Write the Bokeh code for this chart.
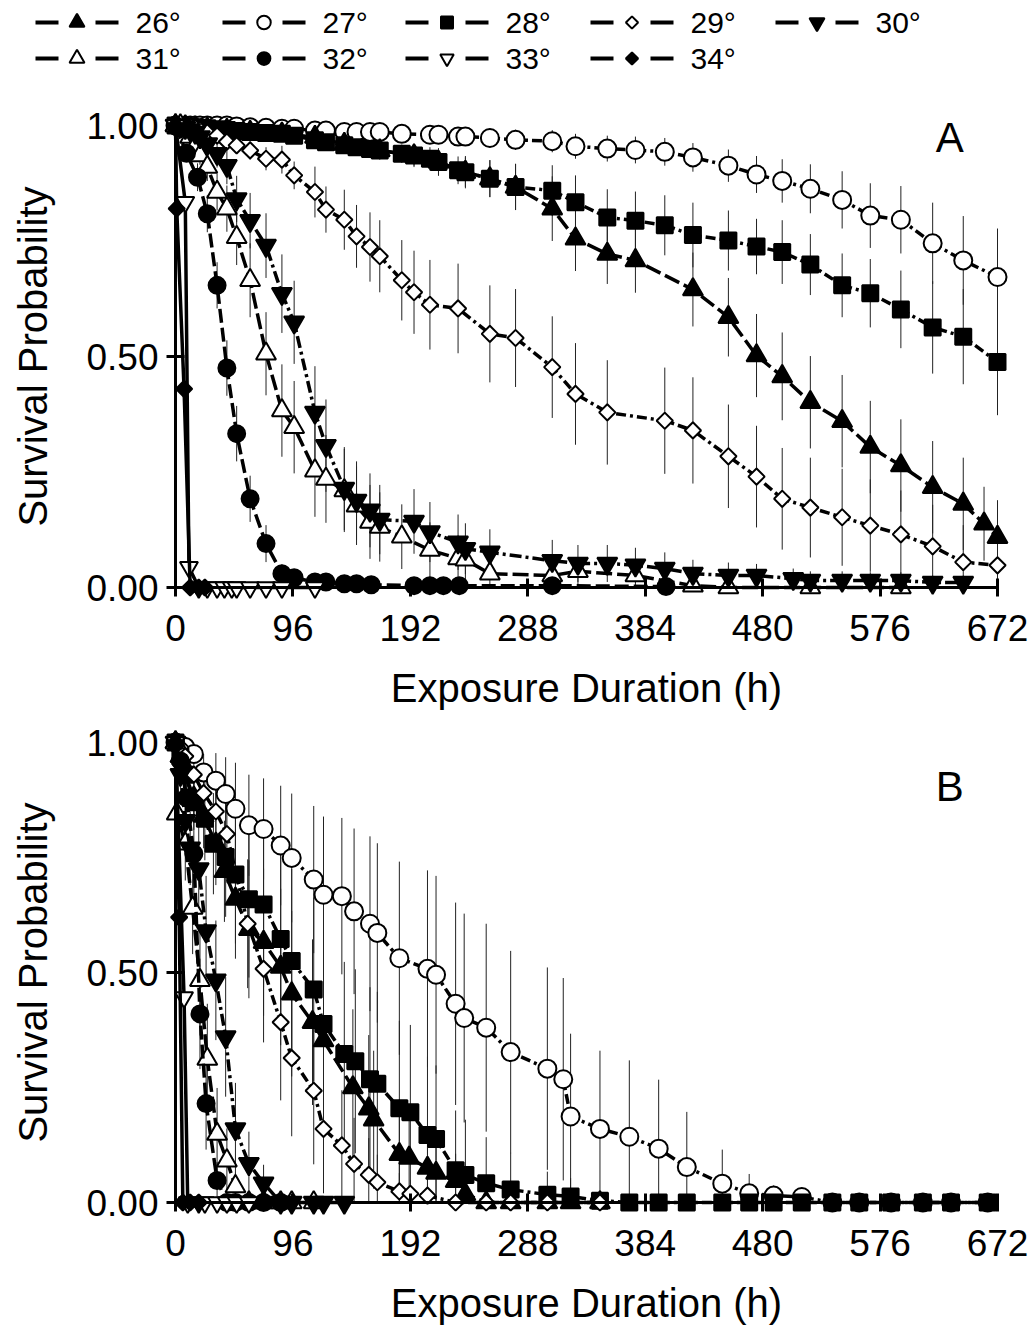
import numpy as np
from bokeh.plotting import figure
from bokeh.models import Range1d, FixedTicker, PrintfTickFormatter, Label
from bokeh.layouts import column
from bokeh.embed import file_html
from bokeh.resources import INLINE
from bokeh.core.properties import value

LABELS = ["26°", "27°", "28°", "29°", "30°", "31°", "32°", "33°", "34°"]
X_TICKS = [0, 96, 192, 288, 384, 480, 576, 672]
Y_TICKS = [0.0, 0.5, 1.0]
X_TITLE = "Exposure Duration (h)"
Y_TITLE = "Survival Probability"

# ---------------- Panel A ----------------
A26_T = [0, 8, 16, 26, 42, 61, 87, 114, 138, 167, 195, 215, 237, 257, 278, 308, 327, 353, 376, 423, 452, 475, 496, 519, 545, 568, 593, 619, 644, 661, 672]
A26_S = [1.0, 0.998, 0.995, 0.993, 0.99, 0.986, 0.982, 0.975, 0.96, 0.946, 0.935, 0.921, 0.899, 0.885, 0.867, 0.820, 0.755, 0.722, 0.708, 0.645, 0.585, 0.502, 0.457, 0.401, 0.360, 0.304, 0.264, 0.217, 0.181, 0.138, 0.109]
A26_E = [0, 0, 0, 0, 0, 0, 0.005, 0.01, 0.015, 0.02, 0.025, 0.03, 0.035, 0.04, 0.05, 0.07, 0.07, 0.065, 0.07, 0.08, 0.085, 0.09, 0.095, 0.1, 0.1, 0.1, 0.1, 0.1, 0.1, 0.08, 0.08]

A27_T = [0, 4, 8, 12, 16, 20, 26, 34, 42, 50, 61, 74, 87, 97, 114, 123, 138, 148, 159, 167, 185, 208, 215, 231, 237, 257, 278, 308, 327, 353, 376, 400, 423, 452, 475, 496, 519, 545, 568, 593, 619, 644, 672]
A27_S = [1.0, 1.0, 1.0, 1.0, 1.0, 1.0, 1.0, 1.0, 1.0, 0.998, 0.996, 0.995, 0.993, 0.993, 0.989, 0.989, 0.986, 0.986, 0.986, 0.986, 0.982, 0.980, 0.980, 0.976, 0.976, 0.973, 0.969, 0.966, 0.955, 0.950, 0.947, 0.943, 0.931, 0.913, 0.894, 0.880, 0.863, 0.839, 0.805, 0.796, 0.745, 0.708, 0.672]
A27_E = [0, 0, 0, 0, 0, 0, 0, 0, 0, 0.005, 0.006, 0.007, 0.008, 0.008, 0.01, 0.01, 0.012, 0.012, 0.012, 0.012, 0.015, 0.016, 0.016, 0.018, 0.018, 0.02, 0.022, 0.024, 0.027, 0.028, 0.029, 0.030, 0.031, 0.035, 0.040, 0.047, 0.053, 0.062, 0.070, 0.073, 0.088, 0.096, 0.105]

A28_T = [0, 4, 8, 12, 16, 20, 26, 34, 42, 50, 61, 74, 87, 97, 114, 123, 138, 148, 159, 167, 185, 195, 208, 215, 231, 237, 257, 278, 308, 327, 353, 376, 400, 423, 452, 475, 496, 519, 545, 568, 593, 619, 644, 672]
A28_S = [1.0, 1.0, 0.998, 0.997, 0.996, 0.995, 0.994, 0.992, 0.99, 0.988, 0.986, 0.984, 0.982, 0.978, 0.968, 0.964, 0.957, 0.953, 0.949, 0.946, 0.939, 0.935, 0.928, 0.921, 0.903, 0.899, 0.885, 0.867, 0.859, 0.834, 0.801, 0.794, 0.784, 0.763, 0.751, 0.738, 0.726, 0.699, 0.654, 0.637, 0.602, 0.563, 0.543, 0.488]
A28_E = [0, 0, 0, 0, 0, 0, 0, 0, 0, 0, 0, 0, 0.005, 0.006, 0.01, 0.012, 0.014, 0.015, 0.016, 0.018, 0.02, 0.022, 0.025, 0.028, 0.03, 0.032, 0.04, 0.05, 0.055, 0.058, 0.061, 0.063, 0.065, 0.07, 0.065, 0.06, 0.069, 0.066, 0.069, 0.074, 0.084, 0.1, 0.103, 0.115]

A29_T = [0, 4, 8, 12, 16, 20, 26, 34, 42, 50, 61, 74, 87, 97, 114, 123, 138, 148, 159, 167, 185, 195, 208, 231, 257, 278, 308, 327, 353, 400, 423, 452, 475, 496, 519, 545, 568, 593, 619, 644, 672]
A29_S = [1.0, 1.0, 1.0, 0.998, 0.995, 0.99, 0.985, 0.978, 0.965, 0.957, 0.946, 0.928, 0.926, 0.892, 0.856, 0.818, 0.796, 0.760, 0.737, 0.717, 0.665, 0.639, 0.612, 0.604, 0.549, 0.540, 0.477, 0.419, 0.379, 0.361, 0.340, 0.284, 0.240, 0.192, 0.173, 0.152, 0.134, 0.115, 0.089, 0.055, 0.048]
A29_E = [0, 0, 0, 0, 0, 0, 0, 0.005, 0.01, 0.015, 0.02, 0.025, 0.03, 0.03, 0.055, 0.05, 0.065, 0.068, 0.075, 0.078, 0.087, 0.09, 0.097, 0.097, 0.105, 0.106, 0.11, 0.11, 0.113, 0.115, 0.115, 0.112, 0.11, 0.11, 0.108, 0.105, 0.1, 0.095, 0.09, 0.08, 0.07]

A30_T = [0, 4, 8, 12, 16, 20, 26, 34, 42, 50, 61, 74, 87, 97, 114, 123, 138, 148, 159, 167, 195, 208, 231, 237, 257, 308, 329, 353, 376, 400, 423, 452, 475, 505, 519, 545, 568, 593, 619, 644]
A30_S = [1.0, 1.0, 0.995, 0.99, 0.985, 0.975, 0.96, 0.939, 0.913, 0.841, 0.794, 0.740, 0.636, 0.574, 0.379, 0.307, 0.214, 0.188, 0.167, 0.147, 0.143, 0.120, 0.098, 0.084, 0.076, 0.058, 0.052, 0.052, 0.048, 0.041, 0.030, 0.026, 0.026, 0.019, 0.015, 0.015, 0.015, 0.015, 0.011, 0.011]
A30_E = [0, 0, 0, 0.005, 0.01, 0.015, 0.02, 0.03, 0.04, 0.05, 0.06, 0.07, 0.085, 0.09, 0.1, 0.1, 0.09, 0.085, 0.08, 0.075, 0.07, 0.065, 0.06, 0.055, 0.05, 0.045, 0.04, 0.04, 0.038, 0.035, 0.03, 0.028, 0.025, 0.022, 0.02, 0.02, 0.018, 0.018, 0.015, 0.015]

A31_T = [0, 4, 8, 12, 16, 20, 26, 34, 42, 50, 61, 74, 87, 97, 114, 123, 138, 148, 159, 167, 185, 208, 231, 237, 257, 308, 329, 376, 423, 452, 519, 593]
A31_S = [1.0, 1.0, 0.99, 0.975, 0.955, 0.935, 0.910, 0.856, 0.820, 0.758, 0.665, 0.506, 0.383, 0.347, 0.253, 0.235, 0.210, 0.177, 0.142, 0.131, 0.110, 0.081, 0.063, 0.060, 0.030, 0.026, 0.035, 0.026, 0.004, 0.0, 0.0, 0.0]
A31_E = [0, 0, 0.005, 0.01, 0.015, 0.02, 0.03, 0.04, 0.05, 0.06, 0.08, 0.09, 0.1, 0.1, 0.1, 0.095, 0.09, 0.085, 0.08, 0.075, 0.07, 0.06, 0.05, 0.045, 0.035, 0.03, 0.03, 0.025, 0.01, 0, 0, 0]

A32_T = [0, 9, 18, 26, 34, 42, 50, 61, 74, 87, 97, 114, 123, 138, 148, 160, 195, 208, 219, 232, 308, 401]
A32_S = [1.0, 0.94, 0.888, 0.809, 0.654, 0.475, 0.333, 0.192, 0.095, 0.030, 0.021, 0.012, 0.012, 0.008, 0.008, 0.006, 0.004, 0.004, 0.004, 0.004, 0.004, 0.002]
A32_E = [0, 0.01, 0.03, 0.04, 0.05, 0.06, 0.06, 0.05, 0.04, 0.02, 0.015, 0.01, 0.01, 0.008, 0.008, 0.006, 0, 0, 0, 0, 0, 0]

A33_T = [0, 8, 11, 19, 26, 34, 40, 46, 50, 61, 74, 87, 114]
A33_S = [1.0, 0.834, 0.044, 0.0, 0.0, 0.0, 0.0, 0.0, 0.0, 0.0, 0.0, 0.0, 0.0]

A34_T = [0, 1, 7, 12, 19, 24]
A34_S = [1.0, 0.82, 0.43, 0.0, 0.0, 0.0]

# ---------------- Panel B ----------------
B26_T = [0, 4, 8, 15, 23, 33, 40, 49, 60, 72, 86, 95, 112, 121, 145, 158, 162, 183, 191, 206, 213, 229, 237, 254, 274, 304, 323, 347]
B26_S = [1.0, 0.97, 0.93, 0.88, 0.84, 0.78, 0.72, 0.66, 0.594, 0.566, 0.512, 0.454, 0.392, 0.352, 0.250, 0.204, 0.180, 0.105, 0.097, 0.075, 0.064, 0.046, 0.018, 0.0, 0.0, 0.0, 0.0, 0.0]
B26_E = [0, 0.01, 0.03, 0.05, 0.07, 0.09, 0.11, 0.13, 0.15, 0.16, 0.17, 0.18, 0.18, 0.18, 0.17, 0.16, 0.15, 0.12, 0.11, 0.09, 0.08, 0.06, 0.03, 0, 0, 0, 0, 0]

B27_T = [0, 4, 8, 15, 23, 33, 41, 49, 60, 72, 86, 95, 113, 121, 136, 146, 159, 165, 183, 206, 213, 229, 236, 254, 274, 304, 317, 323, 347, 371, 395, 418, 447, 469, 489, 512, 537, 559, 585, 611, 634, 664]
B27_S = [1.0, 0.995, 0.99, 0.975, 0.935, 0.917, 0.888, 0.856, 0.820, 0.812, 0.776, 0.749, 0.702, 0.669, 0.666, 0.633, 0.606, 0.586, 0.531, 0.508, 0.495, 0.432, 0.401, 0.380, 0.327, 0.291, 0.268, 0.187, 0.160, 0.143, 0.117, 0.077, 0.041, 0.020, 0.015, 0.012, 0.0, 0.0, 0.0, 0.0, 0.0, 0.0]
B27_E = [0, 0.005, 0.01, 0.02, 0.04, 0.06, 0.08, 0.10, 0.11, 0.11, 0.13, 0.14, 0.16, 0.17, 0.17, 0.18, 0.19, 0.195, 0.21, 0.214, 0.215, 0.22, 0.227, 0.226, 0.22, 0.22, 0.22, 0.18, 0.17, 0.166, 0.15, 0.12, 0.074, 0.042, 0.022, 0.01, 0, 0, 0, 0, 0, 0]

B28_T = [0, 4, 8, 15, 24, 31, 41, 49, 60, 72, 86, 95, 113, 121, 138, 147, 159, 165, 183, 192, 206, 213, 229, 237, 254, 274, 304, 323, 347, 371, 395, 418, 447, 469, 489, 512, 537, 559, 585, 611, 634, 664]
B28_S = [1.0, 0.97, 0.93, 0.87, 0.834, 0.780, 0.751, 0.713, 0.659, 0.648, 0.573, 0.525, 0.463, 0.388, 0.323, 0.307, 0.268, 0.258, 0.205, 0.196, 0.147, 0.138, 0.070, 0.060, 0.042, 0.028, 0.017, 0.013, 0.004, 0.0, 0.0, 0.0, 0.0, 0.0, 0.0, 0.0, 0.0, 0.0, 0.0, 0.0, 0.0, 0.0]
B28_E = [0, 0.01, 0.03, 0.06, 0.09, 0.11, 0.13, 0.15, 0.17, 0.18, 0.19, 0.2, 0.2, 0.2, 0.2, 0.2, 0.2, 0.2, 0.19, 0.19, 0.17, 0.16, 0.13, 0.12, 0.1, 0.08, 0.05, 0.04, 0.015, 0, 0, 0, 0, 0, 0, 0, 0, 0, 0, 0, 0, 0]

B29_T = [0, 4, 8, 15, 23, 33, 42, 59, 72, 86, 95, 113, 121, 136, 146, 158, 165, 183, 192, 206, 229, 254, 274, 304, 347]
B29_S = [1.0, 0.99, 0.97, 0.93, 0.89, 0.85, 0.801, 0.606, 0.508, 0.392, 0.314, 0.243, 0.160, 0.124, 0.084, 0.060, 0.044, 0.024, 0.019, 0.015, 0.0, 0.0, 0.0, 0.0, 0.0]
B29_E = [0, 0.01, 0.02, 0.04, 0.06, 0.08, 0.1, 0.14, 0.16, 0.17, 0.17, 0.16, 0.14, 0.12, 0.1, 0.08, 0.06, 0.04, 0.03, 0.025, 0, 0, 0, 0, 0]

B30_T = [0, 4, 8, 12, 19, 25, 33, 41, 49, 60, 72, 86, 95, 113, 121, 138]
B30_S = [1.0, 0.93, 0.83, 0.77, 0.725, 0.59, 0.483, 0.36, 0.16, 0.084, 0.042, 0.0, 0.0, 0.0, 0.0, 0.0]
B30_E = [0, 0.03, 0.06, 0.08, 0.1, 0.12, 0.13, 0.13, 0.1, 0.07, 0.04, 0, 0, 0, 0, 0]

B31_T = [0, 1, 8, 14, 20, 26, 34, 42, 49, 60, 72, 86, 95, 113]
B31_S = [1.0, 0.845, 0.78, 0.64, 0.483, 0.312, 0.149, 0.091, 0.035, 0.0, 0.0, 0.0, 0.0, 0.0]
B31_E = [0, 0.05, 0.08, 0.1, 0.12, 0.12, 0.1, 0.07, 0.03, 0, 0, 0, 0, 0]

B32_T = [0, 4, 9, 15, 20, 25, 34, 42, 49, 60, 72, 86]
B32_S = [1.0, 0.96, 0.88, 0.758, 0.410, 0.215, 0.048, 0.0, 0.0, 0.0, 0.0, 0.0]
B32_E = [0, 0.03, 0.06, 0.1, 0.12, 0.1, 0.04, 0, 0, 0, 0, 0]

B33_T = [0, 7, 10, 19, 24, 34, 42, 50, 60]
B33_S = [1.0, 0.446, 0.0, 0.0, 0.0, 0.0, 0.0, 0.0, 0.0]

B34_T = [0, 3, 6, 12, 19]
B34_S = [1.0, 0.62, 0.0, 0.0, 0.0]

PANEL_A = {
    "26°": (A26_T, A26_S, A26_E), "27°": (A27_T, A27_S, A27_E), "28°": (A28_T, A28_S, A28_E),
    "29°": (A29_T, A29_S, A29_E), "30°": (A30_T, A30_S, A30_E), "31°": (A31_T, A31_S, A31_E),
    "32°": (A32_T, A32_S, A32_E), "33°": (A33_T, A33_S, None), "34°": (A34_T, A34_S, None),
}
PANEL_B = {
    "26°": (B26_T, B26_S, B26_E), "27°": (B27_T, B27_S, B27_E), "28°": (B28_T, B28_S, B28_E),
    "29°": (B29_T, B29_S, B29_E), "30°": (B30_T, B30_S, B30_E), "31°": (B31_T, B31_S, B31_E),
    "32°": (B32_T, B32_S, B32_E), "33°": (B33_T, B33_S, None), "34°": (B34_T, B34_S, None),
}

# marker, filled, angle, size, dash
STYLE = {
    "26°": ("triangle", True, 0.0, 20, "16 5"),
    "27°": ("circle", False, 0.0, 18, "10 4 3 4"),
    "28°": ("square", True, 0.0, 16, "10 4 3 4"),
    "29°": ("square", False, np.pi / 4, 11.5, "10 4 3 4"),
    "30°": ("inverted_triangle", True, 0.0, 20, "12 4 3 4"),
    "31°": ("triangle", False, 0.0, 20, "16 5"),
    "32°": ("circle", True, 0.0, 17, "14 5"),
    "33°": ("inverted_triangle", False, 0.0, 18, "solid"),
    "34°": ("square", True, np.pi / 4, 11.5, "solid"),
}
DRAW_ORDER = ["27°", "26°", "28°", "29°", "31°", "30°", "32°", "33°", "34°"]
FONT = "Liberation Sans"

PAGE_W = 1029
PX_PER_H = 822 / 672.0   # horizontal scale
X0_PX = 175              # page x of hour 0


def build_panel(data, letter, lx, ly, top_px, bottom_px, zero_px, unit_px):
    h = bottom_px - top_px
    p = figure(width=PAGE_W, height=h, frame_width=PAGE_W, frame_height=h,
               x_range=Range1d(-X0_PX / PX_PER_H, (PAGE_W - X0_PX) / PX_PER_H),
               y_range=Range1d((zero_px - bottom_px) / unit_px, (zero_px - top_px) / unit_px),
               output_backend="svg", toolbar_location=None,
               min_border=0, min_border_left=0, min_border_right=0,
               min_border_top=0, min_border_bottom=0)
    p.grid.visible = False
    p.outline_line_color = None
    p.background_fill_color = "white"
    p.border_fill_color = "white"

    ex, elo, ehi = [], [], []
    for lab in LABELS:
        t, s, e = data[lab]
        if e is None:
            continue
        t = np.array(t, float); s = np.array(s, float); e = np.array(e, float)
        m = e > 0
        ex += list(t[m]); elo += list(np.clip(s[m] - e[m], 0, 1)); ehi += list(np.clip(s[m] + e[m], 0, 1))
    p.segment(x0=ex, y0=elo, x1=ex, y1=ehi, line_color="#222222", line_width=1)

    for lab in DRAW_ORDER:
        t, s, e = data[lab]
        marker, filled, ang, size, dash = STYLE[lab]
        p.line(t, s, line_color="black", line_width=3.5, line_dash=dash)
        p.scatter(t, s, marker=marker, size=size, angle=ang,
                  fill_color="black" if filled else "white",
                  line_color="black", line_width=2)

    xa = p.xaxis[0]; ya = p.yaxis[0]
    xa.ticker = FixedTicker(ticks=X_TICKS)
    ya.ticker = FixedTicker(ticks=Y_TICKS)
    ya.formatter = PrintfTickFormatter(format="%.2f")
    for ax in (xa, ya):
        ax.fixed_location = 0
        ax.axis_line_width = 3
        ax.axis_line_color = "black"
        ax.major_tick_line_width = 3
        ax.major_tick_line_color = "black"
        ax.major_tick_in = 9
        ax.major_tick_out = 9
        ax.minor_tick_line_color = None
        ax.major_label_text_font = FONT
        ax.major_label_text_font_size = "37px"
        ax.major_label_text_color = "black"
        ax.axis_label_text_font = FONT
        ax.axis_label_text_font_size = "40px"
        ax.axis_label_text_font_style = "normal"
        ax.axis_label_text_color = "black"
    xa.bounds = (0, 672)
    ya.bounds = (0, 1)
    xa.axis_label = X_TITLE
    ya.axis_label = Y_TITLE
    xa.major_label_standoff = 18
    ya.major_label_standoff = 8
    xa.axis_label_standoff = 22
    ya.axis_label_standoff = 28

    p.add_layout(Label(x=lx, y=ly, text=letter, text_font=FONT, text_font_size="42px",
                       text_align="center", text_baseline="middle", text_color="black"))
    return p


# legend strip
LEG_COL_X = [35, 222, 405, 590, 775]
LEG_ROW_Y = [22, 58]
LEG_H = 95
leg = figure(width=PAGE_W, height=LEG_H, frame_width=PAGE_W, frame_height=LEG_H,
             x_range=Range1d(0, PAGE_W), y_range=Range1d(LEG_H, 0),
             output_backend="svg", toolbar_location=None, x_axis_type=None, y_axis_type=None,
             min_border=0, min_border_left=0, min_border_right=0, min_border_top=0, min_border_bottom=0)
leg.grid.visible = False
leg.outline_line_color = None
sx0, sx1, sy, tx, ty = [], [], [], [], []
for i, lab in enumerate(LABELS):
    x0 = LEG_COL_X[i % 5]; y = LEG_ROW_Y[i // 5]
    sx0 += [x0, x0 + 60]; sx1 += [x0 + 23, x0 + 83]; sy += [y, y]
    marker, filled, ang, size, dash = STYLE[lab]
    leg.scatter([x0 + 41.5], [y], marker=marker, size=size * 0.75, angle=ang,
                fill_color="black" if filled else "white", line_color="black", line_width=2)
    tx.append(x0 + 100); ty.append(y)
leg.segment(x0=sx0, y0=sy, x1=sx1, y1=sy, line_color="black", line_width=4)
leg.text(x=tx, y=ty, text=LABELS, text_font=value(FONT), text_font_size="30px",
         text_baseline="middle", text_align="left", text_color="black")

pA = build_panel(PANEL_A, "A", 633, 0.975, LEG_H, 716, 587, 462)
pB = build_panel(PANEL_B, "B", 633, 0.904, 716, 1328, 1202, 460)

layout = column(leg, pA, pB, spacing=0)
open("out.html", "w").write(file_html(layout, INLINE))
